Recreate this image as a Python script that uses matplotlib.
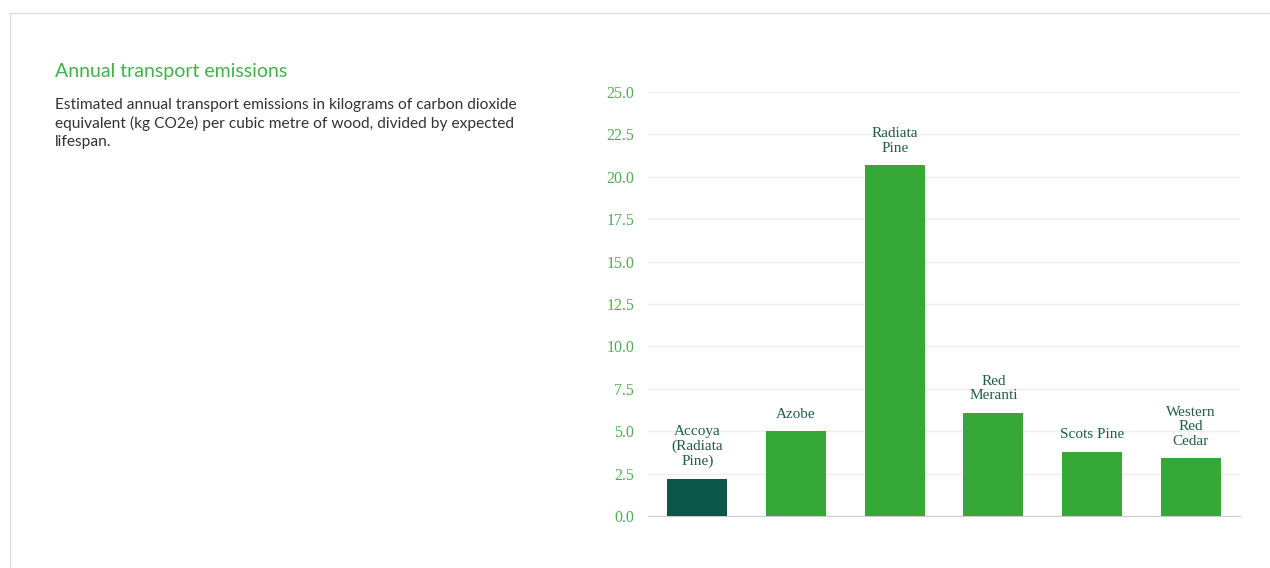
import matplotlib.pyplot as plt
from matplotlib.lines import Line2D

# data
species = ['Accoya\n(Radiata\nPine)', 'Azobe', 'Radiata\nPine', 'Red\nMeranti',
           'Scots Pine', 'Western\nRed\nCedar']
emissions = [2.2, 5.0, 20.7, 6.1, 3.8, 3.4]
y_ticks = [0.0, 2.5, 5.0, 7.5, 10.0, 12.5, 15.0, 17.5, 20.0, 22.5, 25.0]

BAR_GREEN = '#35a838'
ACCOYA_GREEN = '#0b574a'
TICK_GREEN = '#4caf50'
LABEL_GREEN = '#1f5f47'

fig = plt.figure(figsize=(12.7, 5.68), dpi=100)
W, H = 1270, 568

# card border (top and left edges)
fig.add_artist(Line2D([10 / W, 1], [1 - 13 / H, 1 - 13 / H], color='#dddddd', lw=1))
fig.add_artist(Line2D([10 / W, 10 / W], [0, 1 - 13 / H], color='#dddddd', lw=1))

# heading and description
fig.text(55 / W, 1 - 71 / H, 'Annual transport emissions', color='#3db54a',
         fontsize=14, family='Lato', va='center')
desc = ('Estimated annual transport emissions in kilograms of carbon dioxide\n'
        'equivalent (kg CO2e) per cubic metre of wood, divided by expected\n'
        'lifespan.')
fig.text(55 / W, 1 - 98 / H, desc, color='#333333', fontsize=11.2, family='Lato',
         va='top', linespacing=1.36)

ax = fig.add_axes([648 / W, 1 - 516 / H, (1240 - 648) / W, (516 - 92) / H])
colors = [ACCOYA_GREEN] + [BAR_GREEN] * (len(emissions) - 1)
x = range(len(emissions))
ax.bar(x, emissions, width=0.61, color=colors, zorder=3)

for i, v in enumerate(emissions):
    ax.annotate(species[i], (i, v), xytext=(0, 7.5), textcoords='offset points',
                ha='center', va='bottom', fontsize=11, family='Liberation Serif',
                color=LABEL_GREEN, linespacing=1.15)

ax.set_xlim(-0.5, len(emissions) - 0.5)
ax.set_ylim(0, 25)
ax.set_yticks(y_ticks)
ax.set_yticklabels(['%.1f' % t for t in y_ticks], family='Liberation Serif',
                   fontsize=11.5, color=TICK_GREEN)
ax.set_xticks([])
ax.tick_params(axis='y', length=0, pad=10)
ax.grid(axis='y', color='#eeeeee', lw=1, zorder=0)
for side in ['top', 'right', 'left']:
    ax.spines[side].set_visible(False)
ax.spines['bottom'].set_color('#cccccc')

fig.savefig('out.png', dpi=100)
